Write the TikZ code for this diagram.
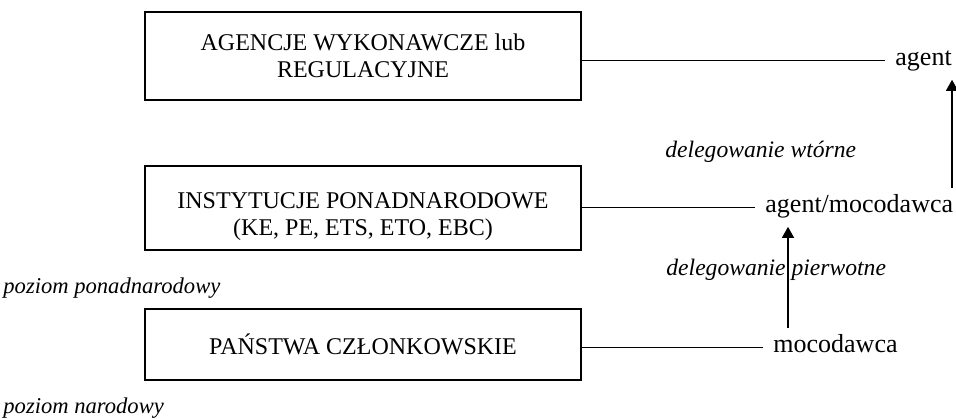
\documentclass[tikz,border=0pt]{standalone}
\usepackage{fontspec}
\setmainfont{Liberation Serif}
\usetikzlibrary{arrows.meta}
\tikzset{
  box/.style={draw,line width=0.7pt,minimum width=218pt,align=center,font=\fontsize{12}{13.5}\selectfont},
  role/.style={anchor=base west,inner xsep=5pt,inner ysep=5pt,text height=0.7em,text depth=0.22em,font=\fontsize{13}{15}\selectfont},
  note/.style={anchor=base west,inner sep=0pt,font=\fontsize{11.8}{14}\selectfont\itshape},
  level/.style={note,font=\fontsize{11.3}{14}\selectfont\itshape},
  link/.style={line width=0.65pt},
  arr/.style={line width=0.65pt,-{Triangle[width=6pt,length=5.5pt]}}
}
\begin{document}
\begin{tikzpicture}[x=0.5pt,y=-0.5pt]
\useasboundingbox (0,0) rectangle (956,418);
% boxes
\node[box,minimum height=44pt] (agencje) at (363,56) {AGENCJE WYKONAWCZE lub\\REGULACYJNE};
\node[box,minimum height=42pt] (instytucje) at (363,208) {\rule{0pt}{17pt}INSTYTUCJE PONADNARODOWE\\(KE, PE, ETS, ETO, EBC)};
\node[box,minimum height=35.5pt] (panstwa) at (363,344.5) {PAŃSTWA CZŁONKOWSKIE};
% roles
\node[role] (agent) at (885,65) {agent};
\node[role] (agmoc) at (755,212) {agent/mocodawca};
\node[role] (mocodawca) at (763,352) {mocodawca};
\draw[link] (agencje.east |- agent.west) -- (agent.west);
\draw[link] (instytucje.east |- agmoc.west) -- (agmoc.west);
\draw[link] (panstwa.east |- mocodawca.west) -- (mocodawca.west);
% delegation
\coordinate (up1) at (788,0);
\coordinate (up2) at (952,0);
\draw[arr] (mocodawca.north -| up1) -- (agmoc.south -| up1);
\draw[arr] (agmoc.north -| up2) -- (agent.south -| up2);
\node[note] (wtorne) at (665,157) {delegowanie wtórne};
\node[note] (pierwotne) at (666,275) {delegowanie pierwotne};
% levels
\node[level] (ponad) at (3,293) {poziom ponadnarodowy};
\node[level] (narod) at (3,413) {poziom narodowy};
\end{tikzpicture}
\end{document}
